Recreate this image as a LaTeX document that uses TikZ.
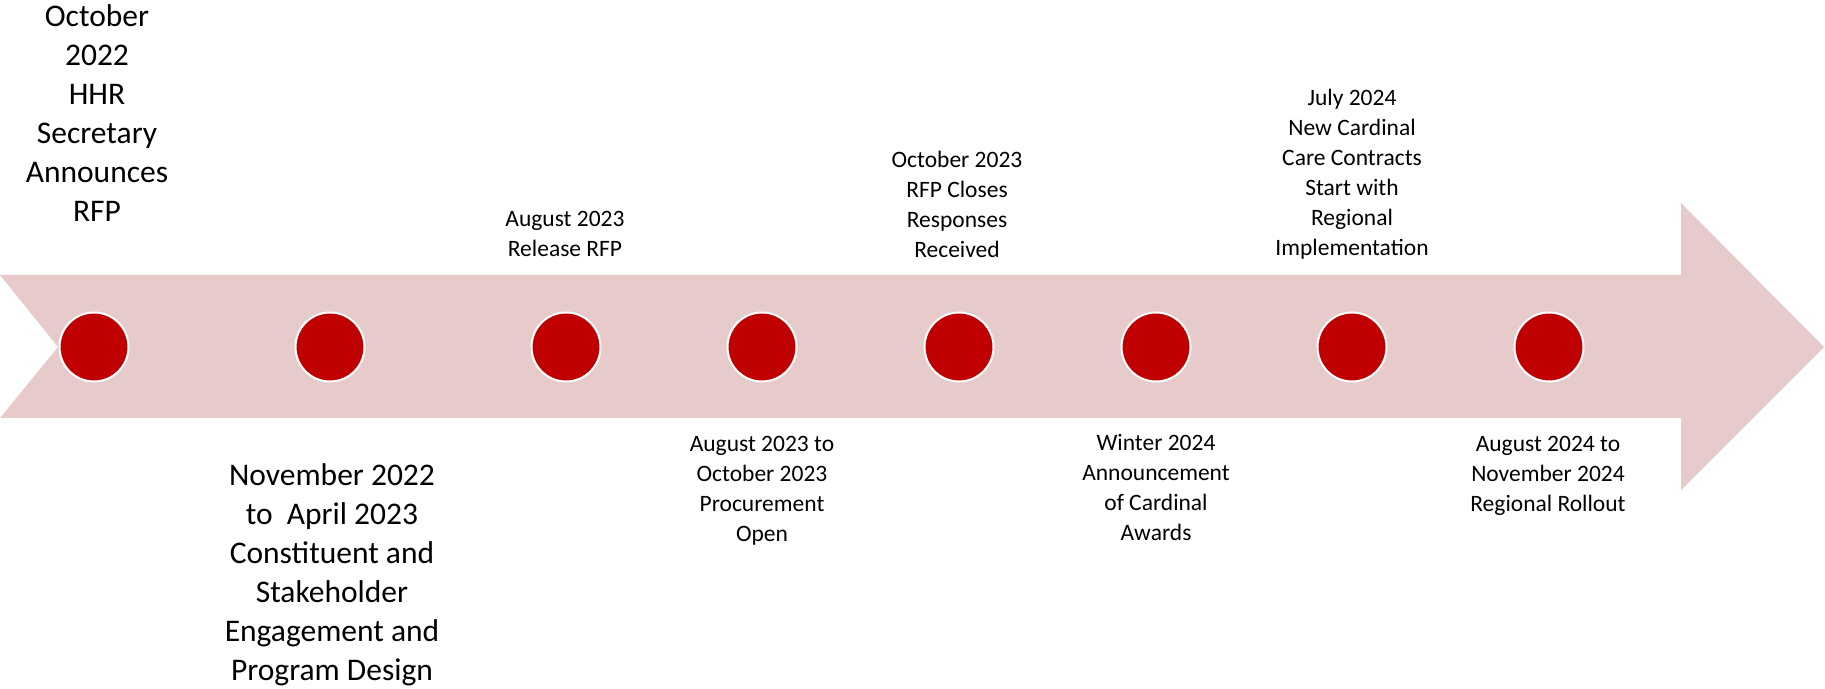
\documentclass[tikz,border=0pt]{standalone}
\usepackage{fontspec}
\setmainfont{Carlito}
\usepackage{xcolor}
\usepackage{tikz}
\definecolor{arrowpink}{RGB}{231,202,202}
\definecolor{dotred}{RGB}{192,0,0}

\begin{document}
\begin{tikzpicture}[line cap=round,line join=round,x=0.5pt,y=-0.5pt,
			dot/.style={circle,fill=dotred,draw=white,line width=1pt,minimum size=34.5pt,inner sep=0pt},
			small/.style={align=center,inner sep=0pt,font=\fontsize{11.75}{15}\selectfont},
			big/.style={align=center,inner sep=0pt,font=\fontsize{15.75}{19.5}\selectfont}]
			\useasboundingbox (0,0) rectangle (1825,689);
			\fill [color=arrowpink] (0,275) -- (1681,275) -- (1681,203) -- (1824,347) -- (1681,490) -- (1681,418) -- (0,418) -- (58,347) -- cycle;
			\node [dot] (d1) at (94,347) {};
			\node [dot] (d2) at (330,347) {};
			\node [dot] (d3) at (566,347) {};
			\node [dot] (d4) at (762,347) {};
			\node [dot] (d5) at (959,347) {};
			\node [dot] (d6) at (1156,347) {};
			\node [dot] (d7) at (1352,347) {};
			\node [dot] (d8) at (1549,347) {};
			\node [big] (l1) at (97,113.5) {October\\2022\\HHR\\Secretary\\Announces\\RFP};
			\node [big] (l2) at (332,575) {November 2022\\to \ April 2023\\Constituent and\\Stakeholder\\Engagement and\\Program Design};
			\node [small] (l3) at (565,234) {August 2023\\Release RFP};
			\node [small] (l4) at (762,490.5) {August 2023 to\\October 2023\\Procurement\\Open};
			\node [small] (l5) at (957,204) {October 2023\\RFP Closes\\Responses\\Received};
			\node [small] (l6) at (1156,488) {Winter 2024\\Announcement\\of Cardinal\\Awards};
			\node [small] (l7) at (1352,174.5) {July 2024\\New Cardinal\\Care Contracts\\Start with\\Regional\\Implementation};
			\node [small] (l8) at (1548,476) {August 2024 to\\November 2024\\Regional Rollout};
\end{tikzpicture}
\end{document}
